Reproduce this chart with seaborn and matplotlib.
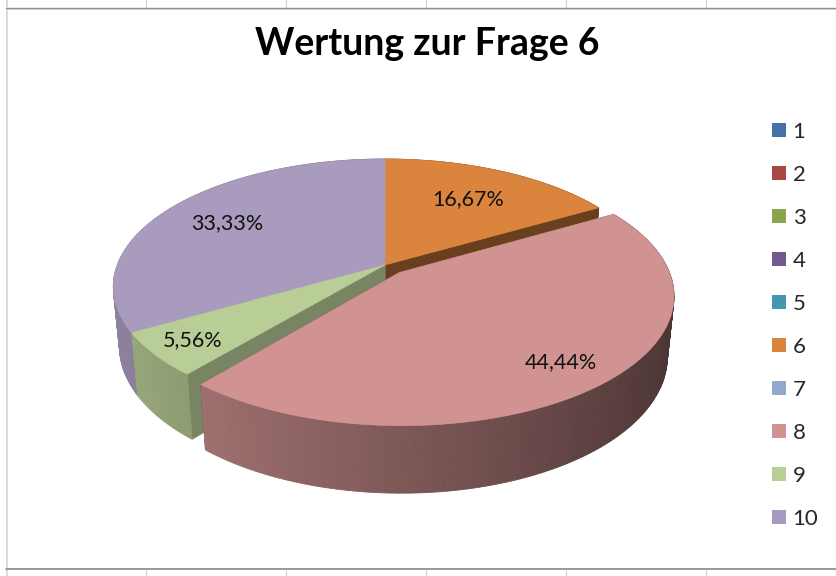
import numpy as np
import matplotlib
matplotlib.use("Agg")
import matplotlib.pyplot as plt
import seaborn as sns
from matplotlib.patches import Patch
from matplotlib.lines import Line2D

# data
categories = ["1", "2", "3", "4", "5", "6", "7", "8", "9", "10"]
counts = [0, 0, 0, 0, 0, 3, 0, 8, 1, 6]
exploded_category = "8"
slice_colors = ["#4572A7", "#AA4643", "#89A54E", "#71588F", "#4198AF",
                "#DB843D", "#93A9CF", "#D19392", "#B9CD96", "#A99BBD"]
label_radius = [0.7, 0.7, 0.7, 0.7, 0.7, 0.68, 0.7, 0.82, 0.85, 0.72]
title = "Wertung zur Frage 6"

sns.set_theme(style="white")
plt.rcParams["font.family"] = ["Lato", "DejaVu Sans"]
palette = sns.color_palette(slice_colors)

W, H = 836, 576
fig = plt.figure(figsize=(W / 100, H / 100), dpi=100)
fig.patch.set_facecolor("white")

# simple perspective camera for the 3D pie look
elev = np.radians(27.6)
dist = 5.21
thick = 0.255
explode = 0.08
ppu = 1395.0          # pixels per projected unit
apex_px = (385, 265)  # where the pie centre lands on the figure
ce, se = np.cos(elev), np.sin(elev)


def project(x, y, z):
    depth = ce * y + dist - se * z
    return x / depth, (se * y + ce * z) / depth, depth


ax = fig.add_axes([0, 0, 1, 1])
ax.set_xlim(-apex_px[0] / ppu, (W - apex_px[0]) / ppu)
ax.set_ylim(-(H - apex_px[1]) / ppu, apex_px[1] / ppu)
ax.axis("off")

values = np.array(counts, dtype=float)
shares = values / values.sum()

walls, tops, labels = [], [], []
start = 0.0
for cat, share, col, lr in zip(categories, shares, palette, label_radius):
    if share == 0:
        continue
    t0, t1 = start, start + share * 2 * np.pi
    start = t1
    mid = (t0 + t1) / 2
    off = explode if cat == exploded_category else 0.0
    ox, oy = off * np.sin(mid), off * np.cos(mid)
    th = np.linspace(t0, t1, max(int(np.degrees(t1 - t0)), 4))
    rx, ry = ox + np.sin(th), oy + np.cos(th)
    rgb = np.array(col)

    # top face
    px, py, pd = project(np.r_[ox, rx], np.r_[oy, ry], np.zeros(len(rx) + 1))
    tops.append((pd.mean(), px, py, rgb))

    # curved outer wall, shaded darker to the right
    for i in range(len(th) - 1):
        xs = np.array([rx[i], rx[i + 1], rx[i + 1], rx[i]])
        ys = np.array([ry[i], ry[i + 1], ry[i + 1], ry[i]])
        zs = np.array([0, 0, -thick, -thick])
        qx, qy, qd = project(xs, ys, zs)
        f = 0.6 - 0.25 * np.sin((th[i] + th[i + 1]) / 2)
        walls.append((qd.mean(), qx, qy, np.clip(rgb * f, 0, 1)))

    # radial walls
    for t, f in ((t0, 0.65), (t1, 0.48)):
        xs = np.array([ox, ox + np.sin(t), ox + np.sin(t), ox])
        ys = np.array([oy, oy + np.cos(t), oy + np.cos(t), oy])
        zs = np.array([0, 0, -thick, -thick])
        qx, qy, qd = project(xs, ys, zs)
        walls.append((qd.mean(), qx, qy, rgb * f))

    lx, ly, _ = project(ox + lr * np.sin(mid), oy + lr * np.cos(mid), 0.0)
    labels.append((lx, ly, f"{share * 100:.2f}%".replace(".", ",")))

for _, qx, qy, c in sorted(walls, key=lambda w: -w[0]):
    ax.fill(qx, qy, facecolor=c, edgecolor=c, linewidth=0.6)
for _, qx, qy, c in sorted(tops, key=lambda w: -w[0]):
    ax.fill(qx, qy, facecolor=c, edgecolor=c, linewidth=0.4)
for lx, ly, txt in labels:
    ax.text(lx, ly, txt, ha="center", va="center", fontsize=15.5, color="#111111")

fig.text(427 / W, 1 - 55 / H, title, ha="center", va="baseline",
         fontsize=27, fontweight="bold", color="black")

handles = [Patch(facecolor=c, edgecolor="none") for c in palette]
fig.legend(handles, categories, loc="upper left",
           bbox_to_anchor=(772 / W, 1 - 122 / H), frameon=False,
           borderpad=0, borderaxespad=0, handlelength=0.63, handleheight=0.59,
           handletextpad=0.3, labelspacing=1.035, fontsize=16)


# worksheet frame around the chart
def hline(y, x0, x1, color, lw):
    fig.add_artist(Line2D([x0 / W, x1 / W], [1 - y / H, 1 - y / H], color=color, lw=lw))


def vline(x, y0, y1, color, lw):
    fig.add_artist(Line2D([x / W, x / W], [1 - y0 / H, 1 - y1 / H], color=color, lw=lw))


vline(6.5, 0, H, "#d4d4d4", 1.2)
hline(7.5, 6, W, "#8c8c8c", 1.0)
hline(9, 6, W, "#cfcfcf", 0.8)
hline(567.5, 6, W, "#d0d0d0", 0.8)
hline(569, 6, W, "#8c8c8c", 1.2)
for gx in [146, 286, 426, 566, 706]:
    vline(gx, 0, 7, "#d4d4d4", 0.9)
    vline(gx, 570, H, "#d4d4d4", 0.9)

fig.savefig("out.png", dpi=100, facecolor="white")
